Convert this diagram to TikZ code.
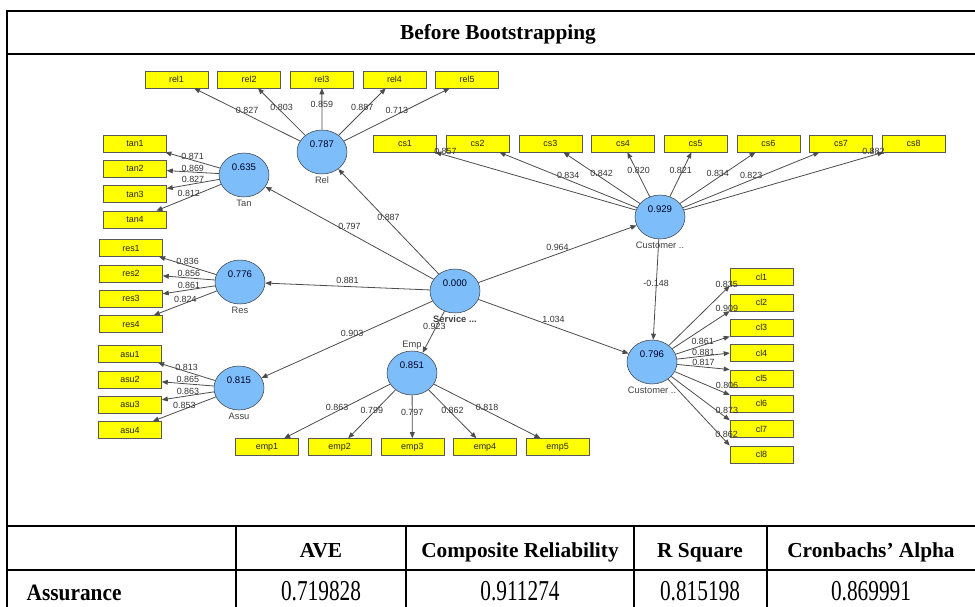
\documentclass[tikz,border=0pt]{standalone}
\usepackage{fontspec}
\setmainfont{Liberation Serif}
\newfontfamily\plsfont{Liberation Sans}
\usetikzlibrary{arrows.meta, positioning, shapes.geometric}

\definecolor{indyellow}{RGB}{255,255,0}
\definecolor{latblue}{RGB}{124,189,250}

% tall table figures
\newcommand{\tallnum}[1]{\scalebox{1}[1.35]{#1}}

\begin{document}
\begin{tikzpicture}[x=0.75pt, y=-0.75pt, >={Triangle[length=4.5pt,width=3.6pt]},
  node distance=54.5pt,
  ind/.style={rectangle, draw=black!65, fill=indyellow, minimum width=47.25pt, minimum height=12.75pt,
    inner sep=0pt, font=\plsfont\fontsize{6.7}{8}\selectfont, text=black!85},
  vgap/.style={node distance=19pt},
  lat/.style={ellipse, draw=black!75, fill=latblue, minimum width=37.5pt, minimum height=33pt,
    inner sep=0pt, text height=5.5pt, text depth=12.5pt, font=\plsfont\fontsize{7.2}{8}\selectfont,
    text=black!85!blue},
  wt/.style={font=\plsfont\fontsize{6.7}{8}\selectfont, text=black!80, inner sep=0.4pt, anchor=south},
  every label/.style={font=\plsfont\fontsize{7}{8}\selectfont, text=black!75, inner sep=2pt,
    text height=5pt, text depth=1.5pt},
  cell/.style={font=\bfseries\fontsize{16}{19}\selectfont, anchor=base},
  num/.style={font=\fontsize{16}{19}\selectfont, anchor=base}]
\useasboundingbox (0,0) rectangle (975,607);

%Konstrukte
\node (sq) [lat, label={[font=\plsfont\bfseries\fontsize{7}{8}\selectfont, inner sep=1.5pt]below:Service ...}] at (455,291) {0.000};
\node (rel) [lat, label=below:Rel] at (322,152) {0.787};
\node (tan) [lat, label=below:Tan] at (244,175) {0.635};
\node (res) [lat, label=below:Res] at (240,282) {0.776};
\node (asu) [lat, label=below:Assu] at (239,388) {0.815};
\node (emp) [lat, label={[inner sep=1pt]above:Emp}] at (412,373) {0.851};
\node (cs) [lat, label=below:Customer ..] at (660,217) {0.929};
\node (cl) [lat, label=below:Customer ..] at (652,362) {0.796};

%Indikatoren
\node (rel1) [ind] at (176.5,79.5) {rel1};
\node (rel2) [ind, right of=rel1] {rel2};
\node (rel3) [ind, right of=rel2] {rel3};
\node (rel4) [ind, right of=rel3] {rel4};
\node (rel5) [ind, right of=rel4] {rel5};

\node (tan1) [ind] at (135,143.5) {tan1};
\node (tan2) [ind, vgap, below of=tan1] {tan2};
\node (tan3) [ind, vgap, below of=tan2] {tan3};
\node (tan4) [ind, vgap, below of=tan3] {tan4};

\node (res1) [ind] at (131,248) {res1};
\node (res2) [ind, vgap, below of=res1] {res2};
\node (res3) [ind, vgap, below of=res2] {res3};
\node (res4) [ind, vgap, below of=res3] {res4};

\node (asu1) [ind] at (130,354) {asu1};
\node (asu2) [ind, vgap, below of=asu1] {asu2};
\node (asu3) [ind, vgap, below of=asu2] {asu3};
\node (asu4) [ind, vgap, below of=asu3] {asu4};

\node (emp1) [ind] at (267,447) {emp1};
\node (emp2) [ind, right of=emp1] {emp2};
\node (emp3) [ind, right of=emp2] {emp3};
\node (emp4) [ind, right of=emp3] {emp4};
\node (emp5) [ind, right of=emp4] {emp5};

\node (cs1) [ind] at (405,143.5) {cs1};
\node (cs2) [ind, right of=cs1] {cs2};
\node (cs3) [ind, right of=cs2] {cs3};
\node (cs4) [ind, right of=cs3] {cs4};
\node (cs5) [ind, right of=cs4] {cs5};
\node (cs6) [ind, right of=cs5] {cs6};
\node (cs7) [ind, right of=cs6] {cs7};
\node (cs8) [ind, right of=cs7] {cs8};

\node (cl1) [ind] at (761.5,277) {cl1};
\node (cl2) [ind, vgap, below of=cl1] {cl2};
\node (cl3) [ind, vgap, below of=cl2] {cl3};
\node (cl4) [ind, vgap, below of=cl3] {cl4};
\node (cl5) [ind, vgap, below of=cl4] {cl5};
\node (cl6) [ind, vgap, below of=cl5] {cl6};
\node (cl7) [ind, vgap, below of=cl6] {cl7};
\node (cl8) [ind, vgap, below of=cl7] {cl8};

%Pfade
\path[->, color=black!70, line width=0.6pt, nodes=wt]
(sq) edge node[above=1.5pt] {0.797} (tan)
(sq) edge node {0.887} (rel)
(sq) edge node[above=1.5pt] {0.881} (res)
(sq) edge node[pos=.47] {0.903} (asu)
(sq) edge node[pos=.46] {0.923} (emp)
(sq) edge node[above=1.5pt] {0.964} (cs)
(sq) edge node[above=2pt] {1.034} (cl)
(cs) edge node[pos=.48] {-0.148} (cl)
;

%Ladungen
\path[->, color=black!70, line width=0.6pt, nodes=wt]
(rel) edge node {0.827} (rel1)
(rel) edge node {0.803} (rel2)
(rel) edge node {0.859} (rel3)
(rel) edge node {0.887} (rel4)
(rel) edge node {0.713} (rel5)

(tan) edge node {0.871} (tan1)
(tan) edge node {0.869} (tan2)
(tan) edge node {0.827} (tan3)
(tan) edge node {0.812} (tan4)

(res) edge node {0.836} (res1)
(res) edge node {0.856} (res2)
(res) edge node {0.861} (res3)
(res) edge node {0.824} (res4)

(asu) edge node {0.813} (asu1)
(asu) edge node {0.865} (asu2)
(asu) edge node {0.863} (asu3)
(asu) edge node {0.853} (asu4)

(emp) edge node {0.863} (emp1)
(emp) edge node {0.799} (emp2)
(emp) edge node {0.797} (emp3)
(emp) edge node {0.862} (emp4)
(emp) edge node {0.818} (emp5)

(cs) edge node[pos=.95] {0.857} (cs1)
(cs) edge node {0.834} (cs2)
(cs) edge node {0.842} (cs3)
(cs) edge node {0.820} (cs4)
(cs) edge node {0.821} (cs5)
(cs) edge node {0.834} (cs6)
(cs) edge node {0.823} (cs7)
(cs) edge node[pos=.95] {0.882} (cs8)

(cl) edge node[pos=.95] {0.835} (cl1.south west)
(cl) edge node[pos=.95] {0.909} (cl2.south west)
(cl) edge node {0.861} (cl3.south west)
(cl) edge node {0.881} (cl4.west)
(cl) edge node {0.817} (cl5.north west)
(cl) edge node[pos=.95, above=3pt] {0.806} (cl6.north west)
(cl) edge node[pos=.95, above=3pt] {0.873} (cl7.north west)
(cl) edge node[pos=.95, above=3pt] {0.862} (cl8.north west)
;

%Tabelle
\draw[line width=2pt] (7,11) -- (990,11);
\draw[line width=2pt] (7,54) -- (990,54);
\draw[line width=2pt] (7,526) -- (990,526);
\draw[line width=2pt] (7,570) -- (990,570);
\draw[line width=2pt] (7,10) -- (7,620);
\draw[line width=1.5pt] (236,526) -- (236,620);
\draw[line width=1.5pt] (406,526) -- (406,620);
\draw[line width=1.5pt] (634,526) -- (634,620);
\draw[line width=1.5pt] (767,526) -- (767,620);

\node (title) [cell] at (498,39.5) {Before Bootstrapping};
\node (h1) [cell] at (321,557) {AVE};
\node (h2) [cell] at (520,557) {Composite Reliability};
\node (h3) [cell] at (700,557) {R Square};
\node (h4) [cell] at (871,557) {Cronbachs’ Alpha};
\node (row) [cell, anchor=base west] at (22,600) {\scalebox{1}[1.1]{Assurance}};
\node (v1) [num] at (321,600) {\tallnum{0.719828}};
\node (v2) [num] at (520,600) {\tallnum{0.911274}};
\node (v3) [num] at (700,600) {\tallnum{0.815198}};
\node (v4) [num] at (871,600) {\tallnum{0.869991}};
\end{tikzpicture}
\end{document}
